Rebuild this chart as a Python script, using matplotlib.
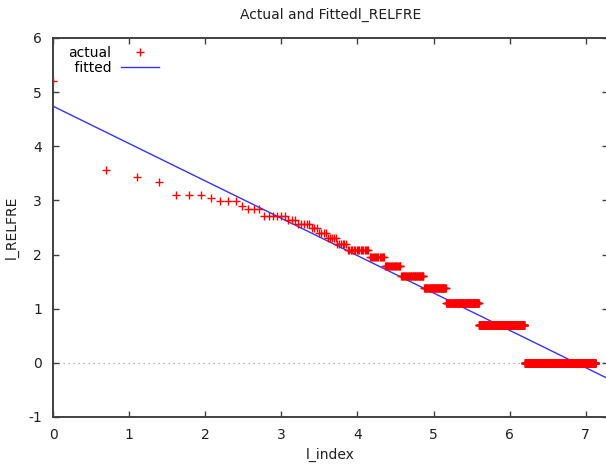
#!/usr/bin/env python3
"""Actual vs fitted log rank-frequency plot (gnuplot look)."""

import numpy as np
import matplotlib

matplotlib.use("Agg")
import matplotlib.pyplot as plt  # noqa: E402


# word frequency levels (descending) and how many ranks share each level
FREQS = [181, 35, 31, 28, 22, 21, 20, 18, 17, 15, 14, 13, 12, 11, 10, 9,
         8, 7, 6, 5, 4, 3, 2, 1]
COUNTS = [1, 1, 1, 1, 3, 1, 3, 1, 3, 6, 3, 5, 3, 4, 5, 6,
          16, 14, 19, 34, 44, 94, 222, 755]

# fitted line: l_RELFRE = INTERCEPT + SLOPE * l_index
INTERCEPT = 4.74
SLOPE = -0.69

X_TICKS = [0, 1, 2, 3, 4, 5, 6, 7]
Y_TICKS = [-1, 0, 1, 2, 3, 4, 5, 6]
X_MAX = 7.29

TITLE = "Actual and Fittedl_RELFRE"
X_LABEL = "l_index"
Y_LABEL = "l_RELFRE"

AXIS_GREY = "#404040"
TEXT = "#202020"

plt.rcParams["axes.unicode_minus"] = False


def main() -> None:
    freqs = np.repeat(FREQS, COUNTS)
    ranks = np.arange(1, len(freqs) + 1)
    l_index = np.log(ranks)
    l_relfre = np.log(freqs)

    figure = plt.figure(figsize=(6.06, 4.66), dpi=100)
    # right border sits just past the picture edge, as in the original crop
    axis = figure.add_axes([0.0875, 0.1052, 0.9155, 0.8133])

    axis.axhline(0.0, color="#a0a0a0", linewidth=0.9, linestyle=(0, (1, 3)),
                 zorder=1)
    axis.plot(l_index, l_relfre, linestyle="none", marker="+", color="red",
              markersize=5.5, markeredgewidth=1.0, label="actual", zorder=3)
    line_x = np.array([0.0, X_MAX])
    axis.plot(line_x, INTERCEPT + SLOPE * line_x, color="#3333ff",
              linewidth=1.0, label=" fitted", zorder=2)

    axis.set_xlim(0, X_MAX)
    axis.set_ylim(-1, 6)
    axis.set_xticks(X_TICKS)
    axis.set_yticks(Y_TICKS)
    axis.tick_params(direction="in", length=4, width=1.0, color=AXIS_GREY,
                     labelsize=10, top=True, right=True, pad=8,
                     labelcolor=TEXT)
    for spine in axis.spines.values():
        spine.set_color(AXIS_GREY)
        spine.set_linewidth(1.4)

    axis.set_title(TITLE, fontsize=10, pad=14, color=TEXT)
    axis.set_xlabel(X_LABEL, fontsize=10, color=TEXT)
    axis.set_ylabel(Y_LABEL, fontsize=10, color=TEXT)
    axis.xaxis.set_label_coords(0.5, -0.082)
    axis.yaxis.set_label_coords(-0.062, 0.5)

    axis.legend(loc="upper left", bbox_to_anchor=(0.01, 1.005), frameon=False,
                markerfirst=False, fontsize=10, handlelength=2.7,
                handletextpad=0.7, labelspacing=0.05, numpoints=1,
                borderaxespad=0.3)

    figure.savefig("out.png", dpi=100)
    plt.close(figure)


if __name__ == "__main__":
    main()
